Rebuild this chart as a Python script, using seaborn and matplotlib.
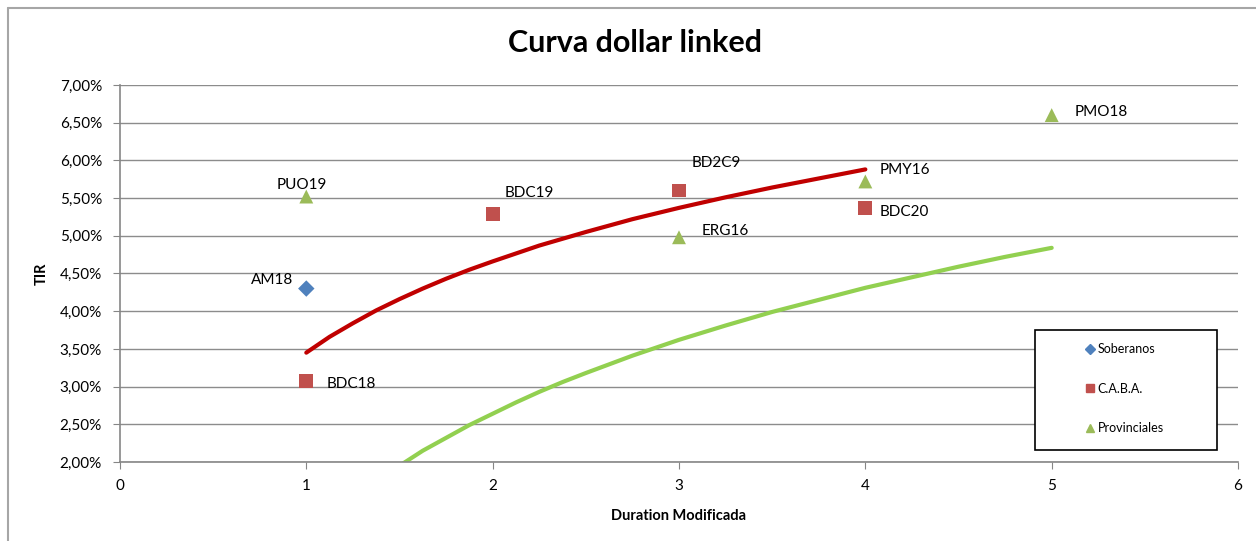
import seaborn as sns
import matplotlib.pyplot as plt
import matplotlib.patches as patches
from matplotlib.lines import Line2D
import pandas as pd

# bonos: duration modificada vs TIR (%)
bonos = ["AM18", "BDC18", "BDC19", "BD2C9", "BDC20", "PUO19", "ERG16", "PMY16", "PMO18"]
grupo = ["Soberanos", "C.A.B.A.", "C.A.B.A.", "C.A.B.A.", "C.A.B.A.",
         "Provinciales", "Provinciales", "Provinciales", "Provinciales"]
duration = [1, 1, 2, 3, 4, 1, 3, 4, 5]
tir = [4.30, 3.08, 5.29, 5.60, 5.37, 5.52, 4.98, 5.72, 6.60]

# lineas de tendencia
tend_caba_x = [1, 1.125, 1.25, 1.375, 1.5, 1.625, 1.75, 1.875, 2, 2.25, 2.5, 2.75,
               3, 3.25, 3.5, 3.75, 4]
tend_caba_y = [3.45, 3.66, 3.84, 4.01, 4.16, 4.30, 4.43, 4.55, 4.66, 4.87, 5.05, 5.22,
               5.37, 5.51, 5.64, 5.76, 5.88]
tend_prov_x = [1.5, 1.625, 1.75, 1.875, 2, 2.125, 2.25, 2.375, 2.5, 2.75, 3, 3.25, 3.5,
               3.75, 4, 4.25, 4.5, 4.75, 5]
tend_prov_y = [1.95, 2.15, 2.32, 2.49, 2.64, 2.79, 2.93, 3.06, 3.18, 3.41, 3.62, 3.81, 3.99,
               4.15, 4.31, 4.45, 4.59, 4.72, 4.84]

colores = {"Soberanos": "#4F81BD", "C.A.B.A.": "#C0504D", "Provinciales": "#9BBB59"}
marcas = {"Soberanos": "D", "C.A.B.A.": "s", "Provinciales": "^"}

df = pd.DataFrame({"bono": bonos, "grupo": grupo, "duration": duration, "tir": tir})

sns.set_style("white")
plt.rcParams["font.family"] = ["Lato", "DejaVu Sans"]
plt.rcParams["text.color"] = "black"
plt.rcParams["axes.labelcolor"] = "black"
plt.rcParams["xtick.color"] = "black"
plt.rcParams["ytick.color"] = "black"

fig = plt.figure(figsize=(12.56, 5.41), dpi=100)
ax = fig.add_axes([0.0955, 0.146, 0.8902, 0.697])

# borde del grafico (izquierda y arriba)
fig.add_artist(Line2D([7.5 / 1256, 7.5 / 1256], [0, 1 - 7.5 / 541], transform=fig.transFigure,
                      color="#A6A6A6", linewidth=1.5))
fig.add_artist(Line2D([7.5 / 1256, 1], [1 - 7.5 / 541, 1 - 7.5 / 541], transform=fig.transFigure,
                      color="#A6A6A6", linewidth=1.5))

sns.lineplot(x=tend_caba_x, y=tend_caba_y, ax=ax, color="#C00000", linewidth=3, zorder=2)
sns.lineplot(x=tend_prov_x, y=tend_prov_y, ax=ax, color="#92D050", linewidth=3, zorder=2)

for g in ["Soberanos", "C.A.B.A.", "Provinciales"]:
    sub = df[df["grupo"] == g]
    sz = 70 if g == "Soberanos" else 100
    sns.scatterplot(data=sub, x="duration", y="tir", ax=ax, color=colores[g],
                    marker=marcas[g], s=sz, edgecolor="none", zorder=3, legend=False)

# etiquetas de datos (desplazamiento en pixeles)
offsets = {"AM18": (-13, 9, "right"), "PUO19": (-4, 12, "center"), "BDC18": (20, -3, "left"),
           "BDC19": (12, 21, "left"), "BD2C9": (13, 28, "left"), "ERG16": (23, 6, "left"),
           "PMY16": (14, 11, "left"), "BDC20": (14, -4, "left"), "PMO18": (23, 3, "left")}
for b, x, y in zip(bonos, duration, tir):
    dx, dy, ha = offsets[b]
    ax.annotate(b, (x, y), xytext=(dx, dy), textcoords="offset pixels",
                ha=ha, va="center", fontsize=11, color="black")

ax.set_xlim(0, 6)
ax.set_ylim(2, 7)
ax.set_xticks(range(0, 7))
yt = [2 + 0.5 * i for i in range(11)]
ax.set_yticks(yt)
ax.set_yticklabels([f"{v:.2f}%".replace(".", ",") for v in yt])
ax.tick_params(axis="both", labelsize=11, length=5, color="#868686", direction="out",
               left=True, bottom=True, labelcolor="black")
ax.tick_params(axis="y", pad=8)
ax.tick_params(axis="x", pad=7)
ax.grid(axis="y", color="#8C8C8C", linewidth=1)
ax.grid(axis="x", visible=False)
for s in ["top", "right"]:
    ax.spines[s].set_visible(False)
for s in ["left", "bottom"]:
    ax.spines[s].set_color("#868686")
    ax.spines[s].set_linewidth(1.2)

fig.text(635 / 1256, 1 - 43 / 541, "Curva dollar linked", fontsize=22, fontweight="bold",
         ha="center", va="center", color="black")
ax.set_xlabel("Duration Modificada", fontsize=10.5, fontweight="bold", labelpad=12)
ax.set_ylabel("TIR", fontsize=10.5, fontweight="bold", labelpad=8)

# leyenda
ax.add_patch(patches.Rectangle((0.818, 0.032), 0.163, 0.318, transform=ax.transAxes,
                               facecolor="white", edgecolor="black", linewidth=1.2, zorder=4,
                               clip_on=False))
handles = [Line2D([], [], linestyle="none", marker=marcas[g], color=colores[g],
                  markersize=6 if g != "Soberanos" else 5) for g in colores]
leg = ax.legend(handles, list(colores), loc="center left", bbox_to_anchor=(0.853, 0.194),
                frameon=False, fontsize=9, labelspacing=2.2, handlelength=0.8,
                handletextpad=0.2)
leg.set_zorder(5)

fig.savefig("out.png", dpi=100)
